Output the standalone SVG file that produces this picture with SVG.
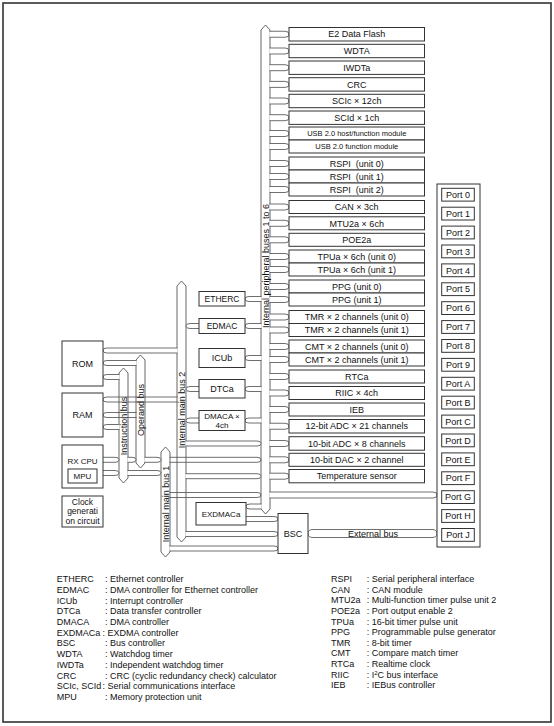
<svg xmlns="http://www.w3.org/2000/svg" width="554" height="726" viewBox="0 0 554 726">
<style>
.frame{fill:#fff;stroke:#333;stroke-width:1.6}
.box{fill:#fff;stroke:#333;stroke-width:1}
.bus{fill:#fff;stroke:#555;stroke-width:0.9}
.cn{fill:#fff;stroke:#555;stroke-width:0.85}
.cx{fill:none;stroke:#555;stroke-width:0.85}
text{font-family:"Liberation Sans",Arial,Helvetica,sans-serif;font-size:9px;fill:#111}
.c{text-anchor:middle}
.s{font-size:7.5px}
.m{font-size:8px}
.m5{font-size:8.5px}
</style>
<defs>
<path id="pc" class="cn" d="M269.5 -3 H285 Q289 -3 289 0 Q289 3 285 3 H269.5"/>
<path id="mc" class="cn" d="M261.5 -2.5 H249 Q245 -2.5 245 0 Q245 2.5 249 2.5 H261.5"/>
<path id="bc" class="cn" d="M199.5 -2.5 H190 Q186 -2.5 186 0 Q186 2.5 190 2.5 H199.5"/>
</defs>
<rect class="frame" x="3" y="3" width="548" height="719"/>

<g id="peripheral-bus">
<polygon class="bus" points="261,30 265.5,25 270,30 270,509 265.5,514 261,509"/>
<text class="c" transform="translate(268.7,266) rotate(-90)">Internal peripheral buses 1 to 6</text>
</g>
<g id="main-bus-2">
<polygon class="bus" points="177,286 181.5,281 186,286 186,537 181.5,542 177,537"/>
<text class="c" transform="translate(184.7,410) rotate(-90)">Internal main bus 2</text>
</g>
<g id="main-bus-1">
<polygon class="bus" points="161,452 165.5,447 170,452 170,552 165.5,557 161,552"/>
<text class="c" transform="translate(168.7,504) rotate(-90)">Internal main bus 1</text>
</g>
<g id="instruction-bus">
<polygon class="bus" points="119,373 123.5,368 128,373 128,478 123.5,483 119,478"/>
<text class="c" transform="translate(126.7,426) rotate(-90)">Instruction bus</text>
</g>
<g id="operand-bus">
<polygon class="bus" points="136,360 140.5,355 145,360 145,463 140.5,468 136,463"/>
<text class="c" transform="translate(143.7,410) rotate(-90)">Operand bus</text>
</g>

<g id="connectors">
<use href="#pc" y="34.25"/><use href="#pc" y="51"/><use href="#pc" y="67.7"/><use href="#pc" y="84.4"/>
<use href="#pc" y="101"/><use href="#pc" y="117.7"/><use href="#pc" y="133.5"/><use href="#pc" y="146.5"/>
<use href="#pc" y="163.5"/><use href="#pc" y="176.5"/><use href="#pc" y="189.5"/><use href="#pc" y="207"/>
<use href="#pc" y="223.3"/><use href="#pc" y="239.8"/><use href="#pc" y="256.5"/><use href="#pc" y="269.5"/>
<use href="#pc" y="286.5"/><use href="#pc" y="299.5"/><use href="#pc" y="317"/><use href="#pc" y="330"/>
<use href="#pc" y="346.5"/><use href="#pc" y="359.5"/><use href="#pc" y="376.5"/><use href="#pc" y="393"/>
<use href="#pc" y="409.5"/><use href="#pc" y="426.25"/><use href="#pc" y="443.5"/><use href="#pc" y="459.8"/>
<use href="#pc" y="476.2"/>
<use href="#mc" y="299"/><use href="#mc" y="326"/><use href="#mc" y="358"/><use href="#mc" y="389"/><use href="#mc" y="420.5"/>
<use href="#bc" y="326"/><use href="#bc" y="389"/><use href="#bc" y="420.5"/>
<path class="cn" d="M177.5 348 H107 Q103 348 103 350.5 Q103 353 107 353 H177.5"/>
<path class="cn" d="M136.5 360.5 H107 Q103 360.5 103 363 Q103 365.5 107 365.5 H136.5"/>
<path class="cn" d="M119.5 374.5 H107 Q103 374.5 103 377 Q103 379.5 107 379.5 H119.5"/>
<path class="cx" d="M177.5 397 H107 Q103 397 103 399.5 Q103 402 107 402 H177.5"/>
<path class="cx" d="M136.5 412.5 H107 Q103 412.5 103 415 Q103 417.5 107 417.5 H136.5"/>
<path class="cn" d="M119.5 424.5 H107 Q103 424.5 103 427 Q103 429.5 107 429.5 H119.5"/>
<path class="cn" d="M103 457.3 H115 Q119 457.3 119 459.8 Q119 462.3 115 462.3 H103"/>
<path class="cn" d="M127.5 457.3 H132 Q136 457.3 136 459.8 Q136 462.3 132 462.3 H127.5"/>
<path class="cn" d="M144.5 457.3 H157 Q161 457.3 161 459.8 Q161 462.3 157 462.3 H144.5"/>
<path class="cx" d="M169.5 457.3 H257 Q261 457.3 261 459.8 Q261 462.3 257 462.3 H169.5"/>
<path class="cn" d="M103 470.5 H115 Q119 470.5 119 473 Q119 475.5 115 475.5 H103"/>
<path class="cn" d="M127.5 470.5 H157 Q161 470.5 161 473 Q161 475.5 157 475.5 H127.5"/>
<path class="cn" d="M185.5 441 H257 Q261 441 261 443.5 Q261 446 257 446 H185.5"/>
<path class="cn" d="M185.5 473.7 H257 Q261 473.7 261 476.2 Q261 478.7 257 478.7 H185.5"/>
<path class="cx" d="M169.5 492.5 H257 Q261 492.5 261 495 Q261 497.5 257 497.5 H169.5"/>
<path class="cn" d="M269.5 492 H433 Q437 492 437 495 Q437 498 433 498 H269.5"/>
<path class="cn" d="M261.5 504 H250 Q246 504 246 506.5 Q246 509 250 509 H261.5"/>
<path class="cn" d="M246 516.5 H274 Q278 516.5 278 519 Q278 521.5 274 521.5 H246"/>
<path class="cn" d="M185.5 531.5 H274 Q278 531.5 278 534 Q278 536.5 274 536.5 H185.5"/>
<path class="cn" d="M169.5 546 H274 Q278 546 278 548.5 Q278 551 274 551 H169.5"/>
<path class="cn" d="M313 529.5 H432 Q437 529.5 437 533.5 Q437 537.5 432 537.5 H313 Q308 537.5 308 533.5 Q308 529.5 313 529.5 Z"/>
<text class="c" x="373" y="536.7">External bus</text>
</g>

<g id="rom"><rect class="box" x="62" y="341" width="41" height="45"/><text class="c" x="82.5" y="366.7">ROM</text></g>
<g id="ram"><rect class="box" x="62" y="393" width="41" height="44"/><text class="c" x="82.5" y="418.2">RAM</text></g>
<g id="rx-cpu"><rect class="box" x="62" y="445" width="41" height="43"/><text class="c m" x="82.5" y="463.5">RX CPU</text>
<g id="mpu"><rect class="box" x="68" y="469" width="29" height="14"/><text class="c m" x="82.5" y="478.9">MPU</text></g></g>
<g id="clock"><rect class="box" x="62" y="496" width="41" height="31"/>
<text class="c m5" x="82.5" y="504.7">Clock</text><text class="c m5" x="82.5" y="514.2">generati</text><text class="c m5" x="82.5" y="523.5">on circuit</text></g>

<g id="etherc"><rect class="box" x="199" y="291.5" width="46" height="14.5"/><text class="c m5" x="222" y="301.8">ETHERC</text></g>
<g id="edmac"><rect class="box" x="199" y="318.5" width="46" height="15"/><text class="c m5" x="222" y="329">EDMAC</text></g>
<g id="icub"><rect class="box" x="199" y="348.5" width="46" height="19"/><text class="c" x="222" y="361.2">ICUb</text></g>
<g id="dtca"><rect class="box" x="199" y="379.5" width="46" height="18.5"/><text class="c" x="222" y="392">DTCa</text></g>
<g id="dmaca"><rect class="box" x="199" y="410.5" width="46" height="20"/><text class="c m" x="222" y="418.8">DMACA ×</text><text class="c m" x="222" y="428.3">4ch</text></g>
<g id="exdmaca"><rect class="box" x="196" y="502.5" width="50" height="22.5"/><text class="c m" x="221" y="516.6">EXDMACa</text></g>
<g id="bsc"><rect class="box" x="278" y="513.5" width="30" height="40"/><text class="c" x="293" y="536.7">BSC</text></g>

<g id="e2-data-flash"><rect class="box" x="289" y="27.5" width="135.5" height="13.5"/><text class="c" x="356.75" y="37.45">E2 Data Flash</text></g>
<g id="wdta"><rect class="box" x="289" y="44.3" width="135.5" height="13.4"/><text class="c" x="356.75" y="54.2">WDTA</text></g>
<g id="iwdta"><rect class="box" x="289" y="61" width="135.5" height="13.4"/><text class="c" x="356.75" y="70.9">IWDTa</text></g>
<g id="crc"><rect class="box" x="289" y="77.7" width="135.5" height="13.4"/><text class="c" x="356.75" y="87.6">CRC</text></g>
<g id="scic"><rect class="box" x="289" y="94.3" width="135.5" height="13.4"/><text class="c" x="356.75" y="104.2">SCIc × 12ch</text></g>
<g id="scid"><rect class="box" x="289" y="111" width="135.5" height="13.4"/><text class="c" x="356.75" y="120.9">SCId × 1ch</text></g>
<g id="usb-host"><rect class="box" x="289" y="127" width="135.5" height="13"/><text class="c s" x="356.75" y="136.2">USB 2.0 host/function module</text></g>
<g id="usb-func"><rect class="box" x="289" y="140" width="135.5" height="13"/><text class="c s" x="356.75" y="149.2">USB 2.0 function module</text></g>
<g id="rspi0"><rect class="box" x="289" y="157" width="135.5" height="13"/><text class="c" x="356.75" y="166.7">RSPI&#160; (unit 0)</text></g>
<g id="rspi1"><rect class="box" x="289" y="170" width="135.5" height="13"/><text class="c" x="356.75" y="179.7">RSPI&#160; (unit 1)</text></g>
<g id="rspi2"><rect class="box" x="289" y="183" width="135.5" height="13"/><text class="c" x="356.75" y="192.7">RSPI&#160; (unit 2)</text></g>
<g id="can"><rect class="box" x="289" y="200.5" width="135.5" height="13"/><text class="c" x="356.75" y="210.2">CAN × 3ch</text></g>
<g id="mtu2a"><rect class="box" x="289" y="216.8" width="135.5" height="13"/><text class="c" x="356.75" y="226.5">MTU2a × 6ch</text></g>
<g id="poe2a"><rect class="box" x="289" y="233.3" width="135.5" height="13"/><text class="c" x="356.75" y="243">POE2a</text></g>
<g id="tpua0"><rect class="box" x="289" y="250" width="135.5" height="13"/><text class="c" x="356.75" y="259.7">TPUa × 6ch (unit 0)</text></g>
<g id="tpua1"><rect class="box" x="289" y="263" width="135.5" height="13"/><text class="c" x="356.75" y="272.7">TPUa × 6ch (unit 1)</text></g>
<g id="ppg0"><rect class="box" x="289" y="280" width="135.5" height="13"/><text class="c" x="356.75" y="289.7">PPG (unit 0)</text></g>
<g id="ppg1"><rect class="box" x="289" y="293" width="135.5" height="13"/><text class="c" x="356.75" y="302.7">PPG (unit 1)</text></g>
<g id="tmr0"><rect class="box" x="289" y="310.5" width="135.5" height="13"/><text class="c" x="356.75" y="320.2">TMR × 2 channels (unit 0)</text></g>
<g id="tmr1"><rect class="box" x="289" y="323.5" width="135.5" height="13"/><text class="c" x="356.75" y="333.2">TMR × 2 channels (unit 1)</text></g>
<g id="cmt0"><rect class="box" x="289" y="340" width="135.5" height="13"/><text class="c" x="356.75" y="349.7">CMT × 2 channels (unit 0)</text></g>
<g id="cmt1"><rect class="box" x="289" y="353" width="135.5" height="13"/><text class="c" x="356.75" y="362.7">CMT × 2 channels (unit 1)</text></g>
<g id="rtca"><rect class="box" x="289" y="370" width="135.5" height="13"/><text class="c" x="356.75" y="379.7">RTCa</text></g>
<g id="riic"><rect class="box" x="289" y="386.5" width="135.5" height="13"/><text class="c" x="356.75" y="396.2">RIIC × 4ch</text></g>
<g id="ieb"><rect class="box" x="289" y="403" width="135.5" height="13"/><text class="c" x="356.75" y="412.7">IEB</text></g>
<g id="adc12"><rect class="box" x="289" y="419.5" width="135.5" height="13.5"/><text class="c" x="356.75" y="429.45">12-bit ADC × 21 channels</text></g>
<g id="adc10"><rect class="box" x="289" y="436.7" width="135.5" height="13.5"/><text class="c" x="356.75" y="446.65">10-bit ADC × 8 channels</text></g>
<g id="dac"><rect class="box" x="289" y="453.3" width="135.5" height="13"/><text class="c" x="356.75" y="463">10-bit DAC × 2 channel</text></g>
<g id="temp"><rect class="box" x="289" y="469.5" width="135.5" height="13.3"/><text class="c" x="356.75" y="479.35">Temperature sensor</text></g>

<g id="ports">
<rect class="box" x="437" y="184" width="43" height="363"/>
<g id="port0"><rect class="box" x="441.7" y="188.3" width="32.6" height="12.8"/><text class="c" x="458" y="197.9">Port 0</text></g>
<g id="port1"><rect class="box" x="441.7" y="207.2" width="32.6" height="12.8"/><text class="c" x="458" y="216.8">Port 1</text></g>
<g id="port2"><rect class="box" x="441.7" y="226.1" width="32.6" height="12.8"/><text class="c" x="458" y="235.7">Port 2</text></g>
<g id="port3"><rect class="box" x="441.7" y="245" width="32.6" height="12.8"/><text class="c" x="458" y="254.6">Port 3</text></g>
<g id="port4"><rect class="box" x="441.7" y="263.9" width="32.6" height="12.8"/><text class="c" x="458" y="273.5">Port 4</text></g>
<g id="port5"><rect class="box" x="441.7" y="282.8" width="32.6" height="12.8"/><text class="c" x="458" y="292.4">Port 5</text></g>
<g id="port6"><rect class="box" x="441.7" y="301.7" width="32.6" height="12.8"/><text class="c" x="458" y="311.3">Port 6</text></g>
<g id="port7"><rect class="box" x="441.7" y="320.6" width="32.6" height="12.8"/><text class="c" x="458" y="330.2">Port 7</text></g>
<g id="port8"><rect class="box" x="441.7" y="339.5" width="32.6" height="12.8"/><text class="c" x="458" y="349.1">Port 8</text></g>
<g id="port9"><rect class="box" x="441.7" y="358.4" width="32.6" height="12.8"/><text class="c" x="458" y="368">Port 9</text></g>
<g id="portA"><rect class="box" x="441.7" y="377.3" width="32.6" height="12.8"/><text class="c" x="458" y="386.9">Port A</text></g>
<g id="portB"><rect class="box" x="441.7" y="396.2" width="32.6" height="12.8"/><text class="c" x="458" y="405.8">Port B</text></g>
<g id="portC"><rect class="box" x="441.7" y="415.1" width="32.6" height="12.8"/><text class="c" x="458" y="424.7">Port C</text></g>
<g id="portD"><rect class="box" x="441.7" y="434" width="32.6" height="12.8"/><text class="c" x="458" y="443.6">Port D</text></g>
<g id="portE"><rect class="box" x="441.7" y="452.9" width="32.6" height="12.8"/><text class="c" x="458" y="462.5">Port E</text></g>
<g id="portF"><rect class="box" x="441.7" y="471.8" width="32.6" height="12.8"/><text class="c" x="458" y="481.4">Port F</text></g>
<g id="portG"><rect class="box" x="441.7" y="490.7" width="32.6" height="12.8"/><text class="c" x="458" y="500.3">Port G</text></g>
<g id="portH"><rect class="box" x="441.7" y="509.6" width="32.6" height="12.8"/><text class="c" x="458" y="519.2">Port H</text></g>
<g id="portJ"><rect class="box" x="441.7" y="528.5" width="32.6" height="12.8"/><text class="c" x="458" y="538.1">Port J</text></g>
</g>

<g id="legend">
<text y="582.2"><tspan x="56.7">ETHERC</tspan><tspan x="105">: Ethernet controller</tspan></text>
<text y="592.9"><tspan x="56.7">EDMAC</tspan><tspan x="105">: DMA controller for Ethernet controller</tspan></text>
<text y="603.6"><tspan x="56.7">ICUb</tspan><tspan x="105">: Interrupt controller</tspan></text>
<text y="614.3"><tspan x="56.7">DTCa</tspan><tspan x="105">: Data transfer controller</tspan></text>
<text y="625"><tspan x="56.7">DMACA</tspan><tspan x="105">: DMA controller</tspan></text>
<text y="635.7"><tspan x="56.7">EXDMACa</tspan><tspan x="102.6">: EXDMA controller</tspan></text>
<text y="646.4"><tspan x="56.7">BSC</tspan><tspan x="105">: Bus controller</tspan></text>
<text y="657.1"><tspan x="56.7">WDTA</tspan><tspan x="105">: Watchdog timer</tspan></text>
<text y="667.8"><tspan x="56.7">IWDTa</tspan><tspan x="105">: Independent watchdog timer</tspan></text>
<text y="678.5"><tspan x="56.7">CRC</tspan><tspan x="105">: CRC (cyclic redundancy check) calculator</tspan></text>
<text y="689.2"><tspan x="56.7">SCIc, SCId</tspan><tspan x="102.6">: Serial communications interface</tspan></text>
<text y="699.9"><tspan x="56.7">MPU</tspan><tspan x="105">: Memory protection unit</tspan></text>
<text y="582.2"><tspan x="331">RSPI</tspan><tspan x="366.7">: Serial peripheral interface</tspan></text>
<text y="592.8"><tspan x="331">CAN</tspan><tspan x="366.7">: CAN module</tspan></text>
<text y="603.4"><tspan x="331">MTU2a</tspan><tspan x="366.7">: Multi-function timer pulse unit 2</tspan></text>
<text y="614"><tspan x="331">POE2a</tspan><tspan x="366.7">: Port output enable 2</tspan></text>
<text y="624.6"><tspan x="331">TPUa</tspan><tspan x="366.7">: 16-bit timer pulse unit</tspan></text>
<text y="635.2"><tspan x="331">PPG</tspan><tspan x="366.7">: Programmable pulse generator</tspan></text>
<text y="645.8"><tspan x="331">TMR</tspan><tspan x="366.7">: 8-bit timer</tspan></text>
<text y="656.4"><tspan x="331">CMT</tspan><tspan x="366.7">: Compare match timer</tspan></text>
<text y="667"><tspan x="331">RTCa</tspan><tspan x="366.7">: Realtime clock</tspan></text>
<text y="677.6"><tspan x="331">RIIC</tspan><tspan x="366.7">: I</tspan><tspan dy="-3" font-size="6">2</tspan><tspan dy="3">C bus interface</tspan></text>
<text y="688.2"><tspan x="331">IEB</tspan><tspan x="366.7">: IEBus controller</tspan></text>
</g>
</svg>
